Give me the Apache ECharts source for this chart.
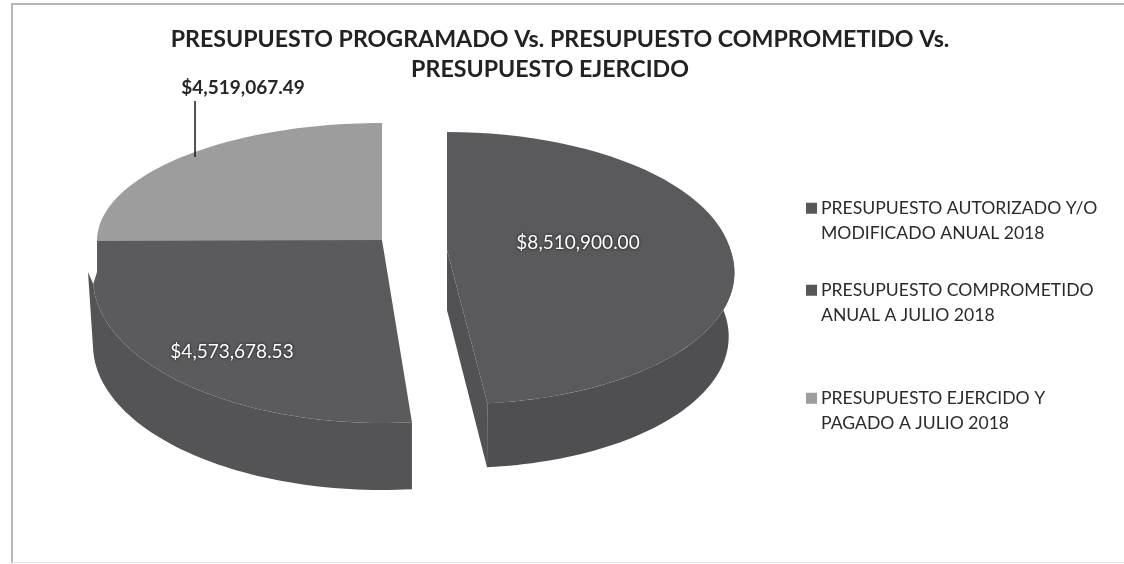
<!DOCTYPE html>
<html>
<head>
<meta charset="utf-8">
<style>
  html, body { margin: 0; padding: 0; background: #fff; }
  #chart { width: 1124px; height: 564px; }
</style>
<script src="https://cdn.jsdelivr.net/npm/echarts@6/dist/echarts.min.js"></script>
</head>
<body>
<div id="chart"></div>
<script>
// Data
var titleLines = [
  'PRESUPUESTO PROGRAMADO Vs. PRESUPUESTO COMPROMETIDO Vs.',
  'PRESUPUESTO EJERCIDO'
];
var sliceNames = [
  'PRESUPUESTO AUTORIZADO Y/O MODIFICADO ANUAL 2018',
  'PRESUPUESTO COMPROMETIDO ANUAL A JULIO 2018',
  'PRESUPUESTO EJERCIDO Y PAGADO A JULIO 2018'
];
var legendLines = [
  ['PRESUPUESTO AUTORIZADO Y/O', 'MODIFICADO ANUAL 2018'],
  ['PRESUPUESTO COMPROMETIDO', 'ANUAL A JULIO 2018'],
  ['PRESUPUESTO EJERCIDO Y', 'PAGADO A JULIO 2018']
];
var sliceValues = [8510900.00, 4573678.53, 4519067.49];
var sliceLabels = ['$8,510,900.00', '$4,573,678.53', '$4,519,067.49'];

// Look of the tilted, exploded pie (each wedge has its own perspective)
var FONT = 'Lato, "Open Sans", sans-serif';
var FACE_COLORS = ['#5a5a5c', '#5b5b5d', '#9d9d9d'];
var WALL_COLORS = ['#4f4f51', '#545456', '#9d9d9d'];
var CUT_COLORS = ['#525254', '#545456', '#9d9d9d'];
var SLICE_SHAPES = [
  { ax: 447, ay: 250, faceCy: 268, faceRx: 286, faceRy: 136, wallCy: 332, wallRx: 280, wallRy: 136,
    skew: 0.07, apexBottom: 310, wallFrom: 80, faceExtra: [], wallExtra: [],
    label: { x: 578, y: 243, color: '#fff', bold: false } },
  { ax: 382, ay: 240, faceCy: 278, faceRx: 289, faceRy: 145, wallCy: 345, wallRx: 289, wallRy: 145,
    skew: 0, apexBottom: 240, wallFrom: 174, faceExtra: [[97, 272], [97, 241]], wallExtra: [[88, 272]],
    label: { x: 232, y: 352, color: '#fff', bold: false } },
  { ax: 382, ay: 241, faceCy: 241, faceRx: 285, faceRy: 118, wallCy: 241, wallRx: 285, wallRy: 118,
    skew: 0, apexBottom: 241, wallFrom: null, faceExtra: [], wallExtra: [],
    label: { x: 243, y: 88, color: '#262626', bold: true, leaderAngle: 319, leaderTop: 101 } }
];
var LEGEND_TOPS = [170, 252, 360];

// Wedge angles in degrees, clockwise from 12 o'clock
var total = sliceValues.reduce(function (sum, v) { return sum + v; }, 0);
var sliceAngles = [];
sliceValues.reduce(function (start, v) {
  var end = start + v / total * 360;
  sliceAngles.push([start, end]);
  return end;
}, 0);

function arcPoint(shape, cy, rx, ry, yRef, deg) {
  var rad = deg * Math.PI / 180;
  var y = cy - ry * Math.cos(rad);
  var x = shape.ax + rx * Math.sin(rad) + shape.skew * Math.max(0, y - yRef);
  return [x, y];
}

function arcPoints(shape, cy, rx, ry, yRef, from, to) {
  var pts = [];
  var steps = 60;
  for (var i = 0; i <= steps; i++) {
    pts.push(arcPoint(shape, cy, rx, ry, yRef, from + (to - from) * i / steps));
  }
  return pts;
}

function polygon(points, color) {
  return { type: 'polygon', shape: { points: points }, style: { fill: color }, silent: true };
}

function renderSlice(index) {
  return function () {
    var shape = SLICE_SHAPES[index];
    var start = sliceAngles[index][0];
    var end = sliceAngles[index][1];
    var children = [];

    var faceArc = arcPoints(shape, shape.faceCy, shape.faceRx, shape.faceRy, shape.ay, start, end);
    if (shape.wallFrom !== null) {
      // outer wall: band between the upper and the lower rim
      var from = Math.max(start, shape.wallFrom);
      var upper = arcPoints(shape, shape.faceCy, shape.faceRx, shape.faceRy, shape.ay, from, end);
      var lower = arcPoints(shape, shape.wallCy, shape.wallRx, shape.wallRy, shape.apexBottom, from, end);
      if (index === 0) {
        // the cut face of this wedge shows to the left
        children.push(polygon([
          [shape.ax, shape.ay], [shape.ax, shape.apexBottom],
          lower[lower.length - 1], upper[upper.length - 1]
        ], CUT_COLORS[index]));
      }
      children.push(polygon(upper.concat(shape.wallExtra, lower.reverse()), WALL_COLORS[index]));
    }
    children.push(polygon([[shape.ax, shape.ay]].concat(faceArc, shape.faceExtra), FACE_COLORS[index]));

    var label = shape.label;
    if (label.leaderAngle) {
      var tip = arcPoint(shape, shape.faceCy, shape.faceRx, shape.faceRy, shape.ay, label.leaderAngle);
      children.push({
        type: 'line',
        shape: { x1: tip[0], y1: label.leaderTop, x2: tip[0], y2: tip[1] + 5 },
        style: { stroke: '#1a1a1a', lineWidth: 1.5 },
        silent: true
      });
    }
    children.push({
      type: 'text',
      style: {
        text: sliceLabels[index],
        x: label.x,
        y: label.y,
        fill: label.color,
        font: (label.bold ? 'bold ' : '') + '19px ' + FONT,
        textAlign: 'center',
        textVerticalAlign: 'middle',
        textShadowColor: label.bold ? 'transparent' : '#111',
        textShadowBlur: label.bold ? 0 : 3
      },
      silent: true
    });
    return { type: 'group', children: children };
  };
}

var chart = echarts.init(document.getElementById('chart'), null, { renderer: 'canvas' });

chart.setOption({
  animation: false,
  backgroundColor: '#fff',
  color: ['#58585a', '#565658', '#9d9d9d'],
  title: [
    { text: titleLines[0], left: 555, top: 23, textAlign: 'center',
      textStyle: { fontFamily: FONT, fontWeight: 'bold', fontSize: 23.2, color: '#222' } },
    { text: titleLines[1], left: 545, top: 53, textAlign: 'center',
      textStyle: { fontFamily: FONT, fontWeight: 'bold', fontSize: 23.2, color: '#222' } }
  ],
  tooltip: { show: false },
  legend: sliceNames.map(function (name, i) {
    return {
      data: [name],
      left: 806,
      top: LEGEND_TOPS[i],
      padding: 0,
      icon: 'rect',
      itemWidth: 11,
      itemHeight: 11,
      itemGap: 0,
      selectedMode: false,
      textStyle: { fontFamily: FONT, fontSize: 17.6, lineHeight: 25.5, color: '#2a2a2a', padding: [0, 0, 0, -1] },
      // blank first line keeps the marker level with the first text line
      formatter: function () {
        return '\n' + legendLines[i].join('\n');
      }
    };
  }),
  graphic: [
    { type: 'polyline', shape: { points: [[12, 563], [12, 4], [1124, 4]] },
      style: { fill: null, stroke: '#a0a0a0', lineWidth: 1.5 }, silent: true },
    { type: 'line', shape: { x1: 12, y1: 562.5, x2: 1124, y2: 562.5 },
      style: { stroke: '#e4e4e4', lineWidth: 1 }, silent: true }
  ],
  series: sliceNames.map(function (name, i) {
    return {
      type: 'custom',
      name: name,
      coordinateSystem: 'none',
      z: i === 2 ? 1 : 2,
      data: [[sliceValues[i]]],
      renderItem: renderSlice(i)
    };
  })
});

window.addEventListener('resize', function () { chart.resize(); });
</script>
</body>
</html>
